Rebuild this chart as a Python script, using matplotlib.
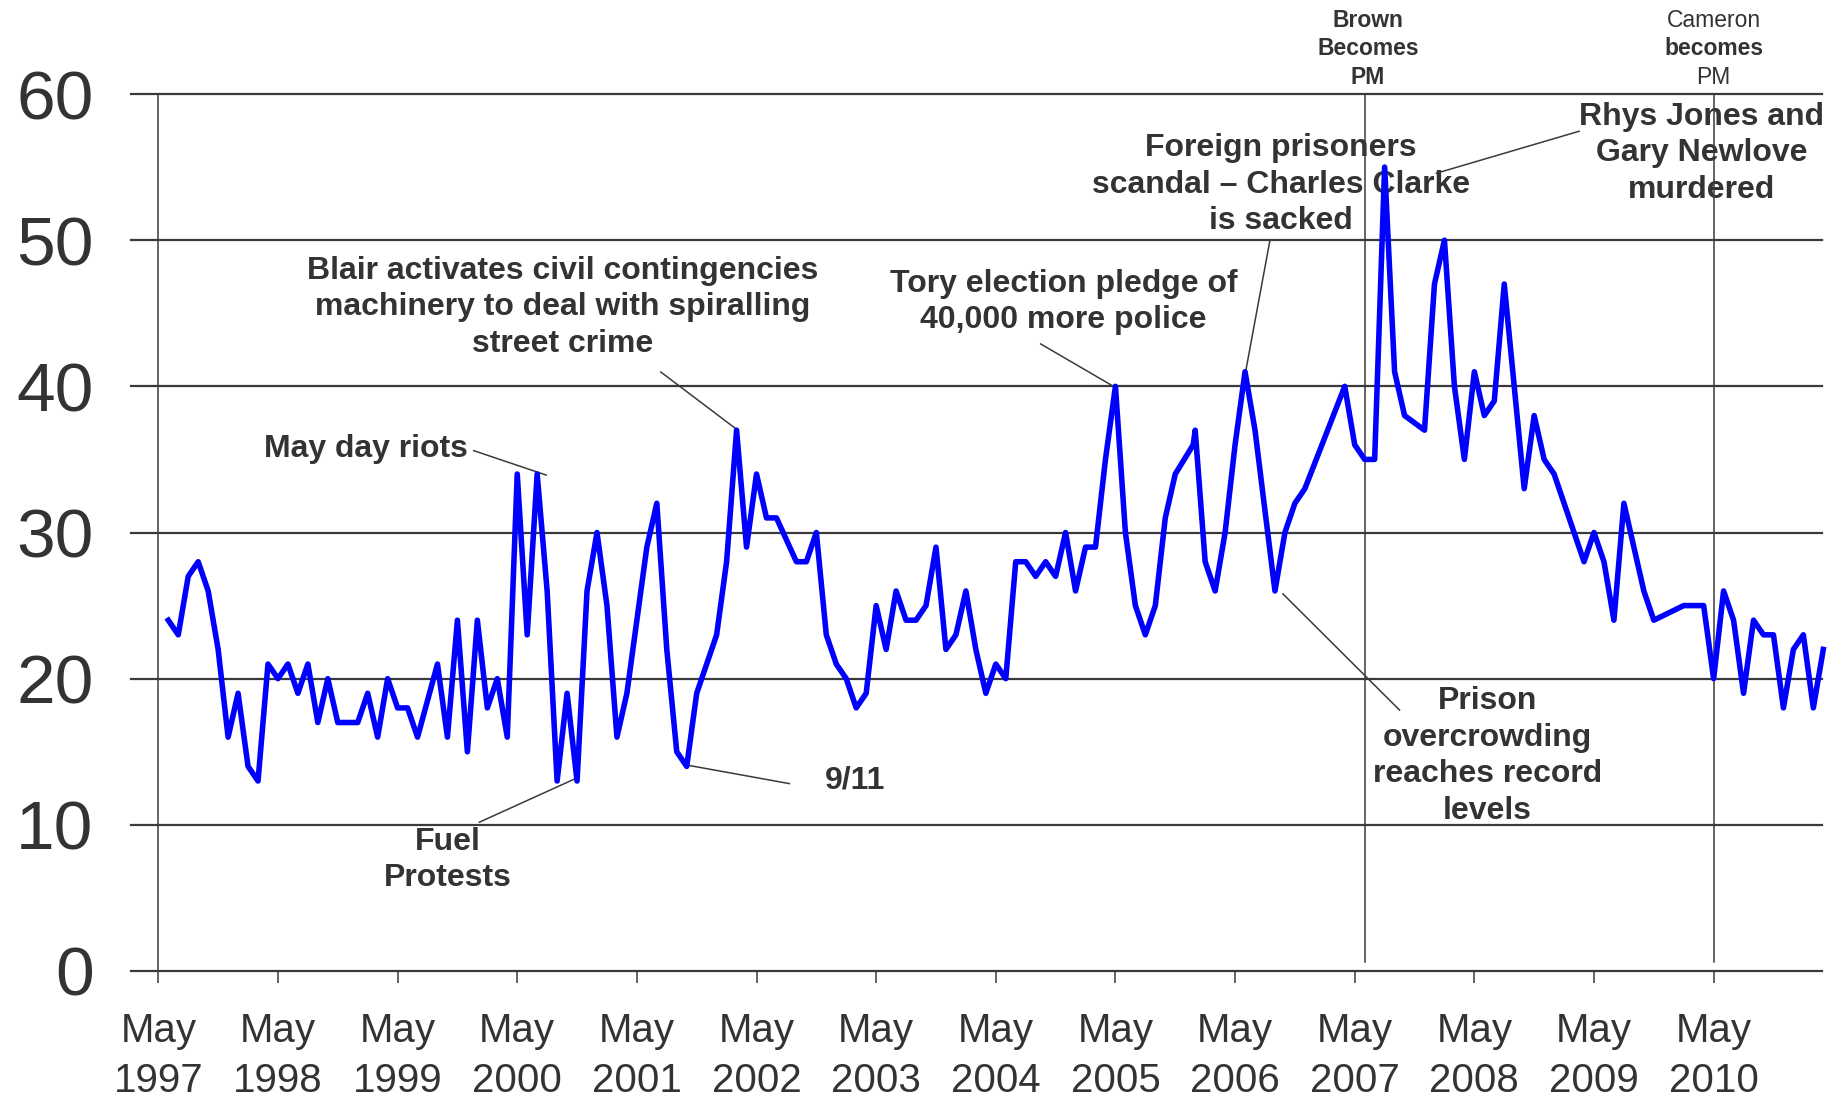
import matplotlib
matplotlib.use("Agg")
import matplotlib.pyplot as plt

# Months counted from May 1997 (0 = May 1997)
months = [1, 2, 3, 4, 5, 6, 7, 8, 9, 10, 11, 12, 13, 14, 15, 16, 17, 18, 19, 20,
          21, 22, 23, 24, 25, 26, 28, 29, 30, 31, 32, 33, 34, 35, 36, 37, 38, 39, 40,
          41, 42, 43, 44, 45, 46, 47, 49, 50, 51, 52, 53, 54, 55, 56, 57, 58, 59, 60,
          61, 62, 64, 65, 66, 67, 68, 69, 70, 71, 72, 73, 74, 75, 76, 77, 78, 79, 80,
          81, 82, 83, 84, 85, 86, 87, 88, 89, 90, 91, 92, 93, 94, 95, 96, 97, 98, 99,
          100, 101, 102, 103.8, 104, 105, 106, 107, 108, 109, 110, 112, 113, 114, 115,
          119, 120, 121, 122, 123, 124, 125, 127, 128, 129, 130, 131, 132, 133, 134,
          135, 136, 137, 138, 139, 140, 141, 143, 144, 145, 146, 147, 149, 150, 153,
          155, 156, 157, 158, 159, 160, 161, 162, 163, 164, 165, 166, 167]
values = [24, 23, 27, 28, 26, 22, 16, 19, 14, 13, 21, 20, 21, 19, 21, 17, 20, 17, 17, 17,
          19, 16, 20, 18, 18, 16, 21, 16, 24, 15, 24, 18, 20, 16, 34, 23, 34, 26, 13,
          19, 13, 26, 30, 25, 16, 19, 29, 32, 22, 15, 14, 19, 21, 23, 28, 37, 29, 34,
          31, 31, 28, 28, 30, 23, 21, 20, 18, 19, 25, 22, 26, 24, 24, 25, 29, 22, 23,
          26, 22, 19, 21, 20, 28, 28, 27, 28, 27, 30, 26, 29, 29, 35, 40, 30, 25, 23,
          25, 31, 34, 36, 37, 28, 26, 30, 36, 41, 37, 26, 30, 32, 33,
          40, 36, 35, 35, 55, 41, 38, 37, 47, 50, 40, 35, 41, 38, 39,
          47, 40, 33, 38, 35, 34, 32, 28, 30, 28, 24, 32, 26, 24, 25,
          25, 20, 26, 24, 19, 24, 23, 23, 18, 22, 23, 18, 22]

tick_months = list(range(0, 157, 12))
tick_labels = [f"May\n{year}" for year in range(1997, 2011)]
y_ticks = [0, 10, 20, 30, 40, 50, 60]

brown_month = 121
cameron_month = 156

TEXT = "#333333"
GRID = "#3a3a3a"

plt.rcParams["font.family"] = ["Liberation Sans", "DejaVu Sans"]

fig = plt.figure(figsize=(18.34, 10.99), dpi=100)
ax = fig.add_axes([131 / 1834, 128 / 1099, 1691 / 1834, 877 / 1099])
ax.set_xlim(-2.74, 166.87)
ax.set_ylim(0, 60)
for spine in ax.spines.values():
    spine.set_visible(False)

# grid and axis lines
for v in y_ticks:
    ax.axhline(v, color=GRID, lw=1.6, clip_on=False, zorder=1)
ax.axvline(0, color=GRID, lw=1.1, zorder=1)
for m in (brown_month, cameron_month):
    ax.plot([m, m], [0.6, 60], color=GRID, lw=1.1, zorder=2)

ax.plot(months, values, color="#0000ff", lw=4.0, clip_on=False, zorder=3)

ax.set_xticks(tick_months)
ax.set_xticklabels(tick_labels, fontsize=29, color=TEXT, linespacing=1.38)
ax.tick_params(axis="x", length=8.6, width=1.1, color=GRID, pad=21)
ax.set_yticks(y_ticks)
ax.set_yticklabels([str(v) for v in y_ticks], fontsize=50, color=TEXT)
ax.tick_params(axis="y", length=0, pad=27)

# event annotations: text, text position, leader line
notes = [
    ("Blair activates civil contingencies\nmachinery to deal with spiralling\nstreet crime",
     (40.55, 45.4), "center", [(50.4, 58.0), (40.98, 37.06)]),
    ("May day riots", (31.05, 35.7), "right", [(31.64, 38.9), (35.6, 33.93)]),
    ("Fuel\nProtests", (29.06, 7.59), "center", [(32.2, 41.96), (10.18, 13.2)]),
    ("9/11", (69.9, 13.06), "center", [(53.0, 63.3), (14.09, 12.82)]),
    ("Tory election pledge of\n40,000 more police", (90.8, 45.77), "center",
     [(88.5, 95.8), (42.9, 40.0)]),
    ("Foreign prisoners\nscandal \u2013 Charles Clarke\nis sacked", (112.6, 53.78), "center",
     [(111.5, 109.05), (50.0, 40.97)]),
    ("Rhys Jones and\nGary Newlove\nmurdered", (154.8, 55.94), "center",
     [(128.2, 142.5), (54.58, 57.45)]),
    ("Prison\novercrowding\nreaches record\nlevels", (133.3, 14.7), "center",
     [(112.8, 124.5), (25.8, 17.85)]),
]
for text, (tx, ty), ha, (lx, ly) in notes:
    ax.text(tx, ty, text, ha=ha, va="center", fontsize=23, fontweight="bold",
            color=TEXT, linespacing=1.28, zorder=1.5)
    ax.plot(lx, ly, color=GRID, lw=1.1, clip_on=False, zorder=2)

# PM labels above the chart
pm_labels = [
    (brown_month + 0.34, [("Brown", "bold"), ("Becomes", "bold"), ("PM", "bold")]),
    (cameron_month, [("Cameron", "normal"), ("becomes", "bold"), ("PM", "normal")]),
]
for x, lines in pm_labels:
    for (word, weight), yv in zip(lines, [65.05, 63.13, 61.15]):
        ax.text(x, yv, word, ha="center", va="center", fontsize=16.5,
                fontweight=weight, color=TEXT)

fig.savefig("out.png", dpi=100)
